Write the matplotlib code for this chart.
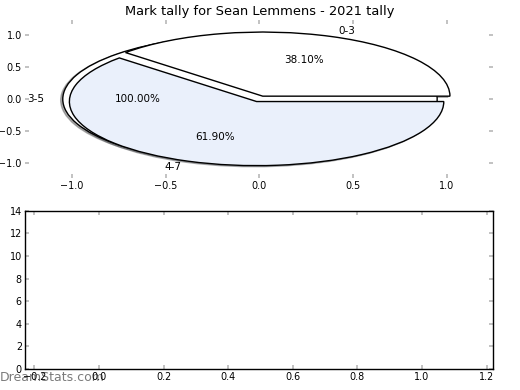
import matplotlib
matplotlib.use("Agg")
import matplotlib.pyplot as plt

# ---- data ----
title = "Mark tally for Sean Lemmens - 2021 tally"
main_labels = ["0-3", "4-7"]
main_counts = [8, 13]
extra_labels = ["3-5"]
extra_counts = [1]
top_ticks = [-1.0, -0.5, 0.0, 0.5, 1.0]
bottom_xticks = [-0.2, 0.0, 0.2, 0.4, 0.6, 0.8, 1.0, 1.2]
bottom_yticks = [0, 2, 4, 6, 8, 10, 12, 14]
watermark = "DreamStats.com"

# ---- style ----
main_colors = ["white", "#eaf0fb"]
extra_colors = ["white"]
main_explode = [0.05, 0.04]
extra_explode = [0.05]
wedge_style = {"edgecolor": "black", "linewidth": 1.0}
shadow_style = {"ox": -0.008, "oy": -0.012, "shade": 0.6}
tick_gray = "#b8b8b8"

fig = plt.figure(figsize=(5.2, 3.9), dpi=100)
ax1 = fig.add_axes([0.0487, 0.5436, 0.9, 0.405])
ax2 = fig.add_axes([0.0487, 0.0546, 0.9, 0.4046])

# single-value pie underneath
ax1.pie(extra_counts, labels=extra_labels, colors=extra_colors, explode=extra_explode,
        shadow=shadow_style, autopct="%.2f%%", wedgeprops=wedge_style,
        textprops={"fontsize": 7.5})
ax1.pie(main_counts, labels=main_labels, colors=main_colors, explode=main_explode,
        shadow=shadow_style, autopct="%.2f%%", wedgeprops=wedge_style,
        textprops={"fontsize": 7.5})

ax1.set_aspect("auto")
ax1.set_xlim(-1.25, 1.25)
ax1.set_ylim(-1.23, 1.234)
ax1.set_xticks(top_ticks)
ax1.set_yticks(top_ticks)
ax1.set_frame_on(False)
ax1.set_title(title, fontsize=9.4, pad=3.8)

ax2.set_xlim(-0.228, 1.221)
ax2.set_ylim(0, 14)
ax2.set_xticks(bottom_xticks)
ax2.set_yticks(bottom_yticks)
for s in ax2.spines.values():
    s.set_color("black")
    s.set_linewidth(1.0)

for ax in (ax1, ax2):
    ax.tick_params(direction="in", length=3, width=1.2, color=tick_gray,
                   labelsize=6.9, pad=2.5, top=True, right=True)

fig.text(0.0, 0.022, watermark, fontsize=9, color="#7a7a7a", zorder=-1)

fig.savefig("out.png", dpi=100)
